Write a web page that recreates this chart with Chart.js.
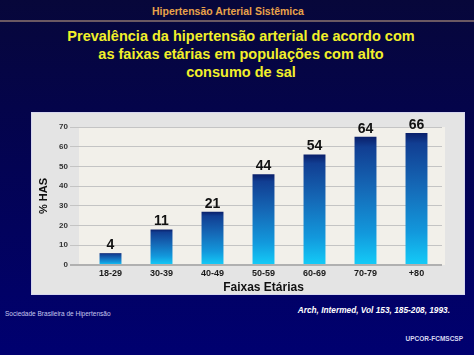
<!DOCTYPE html>
<html><head><meta charset="utf-8">
<script src="https://cdn.jsdelivr.net/npm/chart.js@4/dist/chart.umd.min.js"></script>
<style>
html,body{margin:0;padding:0;}
body{width:474px;height:355px;overflow:hidden;position:relative;
 background:linear-gradient(to bottom,#07073a 0%,#04044a 30%,#000070 100%);
 font-family:"Liberation Sans",Arial,sans-serif;}
.t{position:absolute;white-space:nowrap;}
#hdr{left:0;width:456px;text-align:center;top:5px;font-size:10.5px;font-weight:bold;color:#e8a24a;}
#rule{position:absolute;left:0;width:474px;top:20px;height:2px;background:#6b5862;}
#title{left:0;width:482px;text-align:center;top:27px;font-size:14.5px;line-height:18px;font-weight:bold;color:#f2f02a;}
#panel{position:absolute;left:31px;top:112px;width:432px;height:181px;border:1px solid #d6d6ee;background:#e4e4e4;}
#c{position:absolute;left:-1px;top:-1px;}
#src1{left:5px;top:310px;font-size:6.5px;color:#c8c8f0;}
#src2{right:24px;top:305px;font-size:8.3px;font-weight:bold;font-style:italic;color:#ffffff;}
#src3{right:11px;top:335px;font-size:6.5px;font-weight:bold;color:#d8d8f0;}
</style></head>
<body>
<div class="t" id="hdr">Hipertensão Arterial Sistêmica</div>
<div id="rule"></div>
<div class="t" id="title">Prevalência da hipertensão arterial de acordo com<br>as faixas etárias em populações com alto<br>consumo de sal</div>
<div id="panel"><canvas id="c" width="434" height="183"></canvas></div>
<div class="t" id="src1">Sociedade Brasileira de Hipertensão</div>
<div class="t" id="src2">Arch, Intermed, Vol 153, 185-208, 1993.</div>
<div class="t" id="src3">UPCOR-FCMSCSP</div>
<script>
const categories = ["18-29","30-39","40-49","50-59","60-69","70-79","+80"];
const barHeights = [6, 18, 27, 46, 56, 65, 67];
const valueLabels = ["4","11","21","44","54","64","66"];
const yTicks = [0,10,20,30,40,50,60,70];
const yTitle = "% HAS";
const xTitle = "Faixas Etárias";

const FONT = "'Liberation Sans', Arial, sans-serif";

const plotBg = {
  id:'plotBg',
  beforeDraw(chart){
    const {ctx, chartArea:a} = chart;
    ctx.save();
    ctx.fillStyle = '#f2f0ea';
    ctx.fillRect(a.left-6, a.top, a.right-a.left+9, a.bottom-a.top);
    ctx.restore();
  }
};
const barLabels = {
  id:'barLabels',
  afterDatasetsDraw(chart){
    const {ctx} = chart;
    const meta = chart.getDatasetMeta(0);
    ctx.save();
    ctx.font = "bold 14px " + FONT;
    ctx.fillStyle = '#111';
    ctx.textAlign = 'center';
    ctx.textBaseline = 'bottom';
    meta.data.forEach((bar,i)=>{
      ctx.fillText(valueLabels[i], bar.x, bar.y - 1);
    });
    ctx.restore();
  }
};

function barFill(context){
  const chart = context.chart;
  if(!chart.chartArea || !chart.scales.y) return '#1a78c8';
  const y = chart.scales.y;
  const top = y.getPixelForValue(context.raw);
  const bottom = y.getPixelForValue(0);
  if(!isFinite(top) || !isFinite(bottom) || bottom-top < 1) return '#1a78c8';
  const g = chart.ctx.createLinearGradient(0, top, 0, bottom);
  g.addColorStop(0, '#0a1f6a');
  g.addColorStop(0.08, '#113e92');
  g.addColorStop(0.4, '#1568b6');
  g.addColorStop(0.75, '#1298dc');
  g.addColorStop(1, '#14ccf8');
  return g;
}

new Chart(document.getElementById('c'), {
  type:'bar',
  data:{ labels:categories, datasets:[{ data:barHeights, backgroundColor:barFill, borderWidth:0,
    categoryPercentage:1, barPercentage:0.43 }]},
  plugins:[plotBg, barLabels],
  options:{
    responsive:false, animation:false,
    layout:{ padding:{ top:15, right:23, left:0, bottom:0 } },
    plugins:{ legend:{display:false}, tooltip:{enabled:false} },
    scales:{
      x:{
        grid:{ display:false, drawTicks:false, tickLength:0 }, border:{ display:false },
        ticks:{ font:{ family:FONT, size:9, weight:'bold' }, color:'#1a1a1a', padding:3 },
        title:{ display:true, text:xTitle, font:{ family:FONT, size:12, weight:'bold' }, color:'#111', padding:{top:0,bottom:0} },
        afterFit(s){ s.height = 30; }
      },
      y:{
        min:0, max:70,
        afterBuildTicks(s){ s.ticks = yTicks.map(v=>({value:v})); },
        grid:{ color:(c)=> c.tick && c.tick.value===0 ? '#b0b0b0' : '#c4c4c4',
               lineWidth:(c)=> c.tick && c.tick.value===0 ? 2 : 1, tickLength:15 },
        border:{ display:false },
        ticks:{ font:{ family:FONT, size:8, weight:'bold' }, color:'#333', padding:2 },
        title:{ display:true, text:yTitle, font:{ family:FONT, size:11, weight:'bold' }, color:'#111', padding:{top:6,bottom:0} },
        afterFit(s){ s.width = 54; }
      }
    }
  }
});
</script>
</body></html>
